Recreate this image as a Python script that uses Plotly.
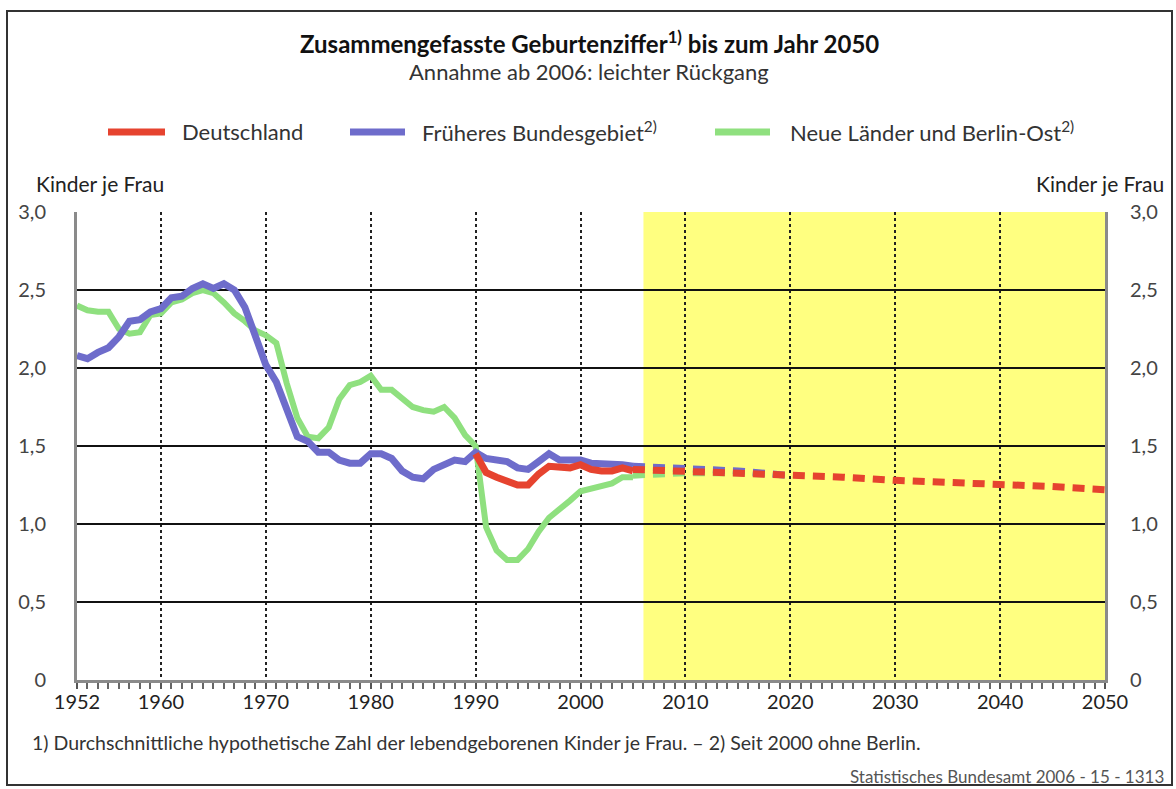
import plotly.graph_objects as go

# ---------------- data ----------------
years_hist = list(range(1952, 2006))
west = [2.08, 2.06, 2.10, 2.13, 2.20, 2.30, 2.31, 2.36, 2.38, 2.45,
        2.46, 2.51, 2.54, 2.51, 2.54, 2.50, 2.39, 2.22, 2.02, 1.91,
        1.72, 1.56, 1.53, 1.46, 1.46, 1.41, 1.39, 1.39, 1.45, 1.45,
        1.42, 1.34, 1.30, 1.29, 1.35, 1.38, 1.41, 1.40, 1.46, 1.42,
        1.41, 1.40, 1.36, 1.35, 1.40, 1.45, 1.41, 1.41, 1.41, 1.39,
        1.39, 1.38, 1.38, 1.37]
east = [2.40, 2.37, 2.36, 2.36, 2.25, 2.22, 2.23, 2.34, 2.35, 2.42,
        2.44, 2.48, 2.50, 2.48, 2.42, 2.35, 2.30, 2.24, 2.21, 2.16,
        1.90, 1.68, 1.56, 1.55, 1.62, 1.80, 1.89, 1.91, 1.95, 1.86,
        1.86, 1.80, 1.75, 1.73, 1.72, 1.75, 1.68, 1.57, 1.50, 0.98,
        0.83, 0.77, 0.77, 0.84, 0.95, 1.04, 1.09, 1.15, 1.21, 1.23,
        1.25, 1.26, 1.30, 1.30]
years_de = list(range(1990, 2006))
germany = [1.45, 1.33, 1.30, 1.28, 1.25, 1.25, 1.32, 1.37, 1.36, 1.36,
           1.38, 1.35, 1.34, 1.34, 1.36, 1.34]

years_fc = [2005, 2010, 2015, 2020, 2025, 2030, 2035, 2040, 2045, 2050]
germany_fc = [1.35, 1.34, 1.33, 1.31, 1.30, 1.28, 1.27, 1.25, 1.24, 1.22]
years_fc_west = [2005, 2010, 2015, 2020]
west_fc = [1.37, 1.36, 1.34, 1.31]
years_fc_east = [2005, 2010, 2015, 2020]
east_fc = [1.31, 1.325, 1.325, 1.31]

forecast_start = 2006
x_ticks = [1952, 1960, 1970, 1980, 1990, 2000, 2010, 2020, 2030, 2040, 2050]
y_ticks = [0, 0.5, 1.0, 1.5, 2.0, 2.5, 3.0]
y_ticktext = ["0", "0,5", "1,0", "1,5", "2,0", "2,5", "3,0"]

series_names = ["Deutschland", "Früheres Bundesgebiet<sup>2)</sup>",
                "Neue Länder und Berlin-Ost<sup>2)</sup>"]

RED = "#e6432f"
BLUE = "#6e6ccb"
GREEN = "#8fe07f"
YELLOW = "#ffff80"
FONT = "Lato, DejaVu Sans, sans-serif"

# ---------------- layout geometry (pixels) ----------------
W, H = 1176, 789
L, R, T, B = 77, 71, 212, 109
PW, PH = W - L - R, H - T - B


def px(x):
    return (x - L) / PW


def py(y):
    return (H - B - y) / PH


fig = go.Figure()

dash_pat = "12px,8px"
fig.add_trace(go.Scatter(x=years_fc_east, y=east_fc, mode="lines",
                         line=dict(color=GREEN, width=6, dash=dash_pat),
                         showlegend=False, hoverinfo="skip"))
fig.add_trace(go.Scatter(x=years_fc_west, y=west_fc, mode="lines",
                         line=dict(color=BLUE, width=7, dash=dash_pat),
                         showlegend=False, hoverinfo="skip"))
fig.add_trace(go.Scatter(x=years_hist, y=east, mode="lines", name=series_names[2],
                         line=dict(color=GREEN, width=6), showlegend=False))
fig.add_trace(go.Scatter(x=years_hist, y=west, mode="lines", name=series_names[1],
                         line=dict(color=BLUE, width=7), showlegend=False))
fig.add_trace(go.Scatter(x=years_de, y=germany, mode="lines", name=series_names[0],
                         line=dict(color=RED, width=7), showlegend=False))
fig.add_trace(go.Scatter(x=years_fc, y=germany_fc, mode="lines", name=series_names[0],
                         line=dict(color=RED, width=7, dash=dash_pat), showlegend=False))
# dummy trace for right axis
fig.add_trace(go.Scatter(x=[2050], y=[0], yaxis="y2", mode="markers",
                         marker=dict(opacity=0), showlegend=False, hoverinfo="skip"))

# forecast shading
fig.add_shape(type="rect", xref="x", yref="y", x0=forecast_start, x1=2050, y0=0, y1=3,
              fillcolor=YELLOW, line=dict(width=0), layer="below")

# outer frame
fig.add_shape(type="rect", xref="paper", yref="paper",
              x0=px(7), x1=px(1172), y0=py(785), y1=py(11),
              line=dict(color="#333", width=2), fillcolor="rgba(0,0,0,0)")

# legend (manual)
legend_items = [(108, 165, 180, RED), (350, 405, 420, BLUE), (715, 770, 788, GREEN)]
for (x0, x1, tx, col), name in zip(legend_items, series_names):
    fig.add_shape(type="line", xref="paper", yref="paper",
                  x0=px(x0), x1=px(x1), y0=py(132), y1=py(132),
                  line=dict(color=col, width=7))
    fig.add_annotation(xref="paper", yref="paper", x=px(tx), y=py(132),
                       text=name, showarrow=False, xanchor="left", yanchor="middle",
                       font=dict(family=FONT, size=22, color="#333"))

annos = [
    dict(x=px(589), y=py(42), text="<b>Zusammengefasste Geburtenziffer<sup>1)</sup> bis zum Jahr 2050</b>",
         xanchor="center", font=dict(size=24, color="#111")),
    dict(x=px(589), y=py(72), text="Annahme ab 2006: leichter Rückgang",
         xanchor="center", font=dict(size=22, color="#333")),
    dict(x=px(34), y=py(183), text="Kinder je Frau", xanchor="left",
         font=dict(size=21, color="#222")),
    dict(x=px(1166), y=py(183), text="Kinder je Frau", xanchor="right",
         font=dict(size=21, color="#222")),
    dict(x=px(30), y=py(742),
         text="1) Durchschnittliche hypothetische Zahl der lebendgeborenen Kinder je Frau. – 2) Seit 2000 ohne Berlin.",
         xanchor="left", font=dict(size=19.5, color="#333")),
    dict(x=px(1166), y=py(776), text="Statistisches Bundesamt 2006 - 15 - 1313",
         xanchor="right", font=dict(size=17, color="#555")),
]
for a in annos:
    a["font"]["family"] = FONT
    fig.add_annotation(xref="paper", yref="paper", showarrow=False, yanchor="middle", **a)

fig.update_layout(
    width=W, height=H,
    margin=dict(l=L, r=R, t=T, b=B, pad=0),
    paper_bgcolor="white", plot_bgcolor="white",
    font=dict(family=FONT, color="#333"),
    showlegend=False,
    xaxis=dict(range=[1952, 2050], tickmode="array", tickvals=x_ticks,
               showgrid=True, gridcolor="#222", gridwidth=1.5, griddash="dot",
               showline=True, linecolor="#8a8a8a", linewidth=3,
               ticks="outside", ticklen=6, tickwidth=1.5, tickcolor="#555",
               minor=dict(tickmode="linear", tick0=1952, dtick=1, ticks="outside",
                          ticklen=6, tickwidth=1.5, tickcolor="#666", showgrid=False),
               ticklabelstandoff=-4,
               tickfont=dict(size=20, color="#222"), zeroline=False),
    yaxis=dict(range=[0, 3], tickmode="array", tickvals=y_ticks, ticktext=y_ticktext,
               showgrid=True, gridcolor="#111", gridwidth=2,
               showline=True, linecolor="#8a8a8a", linewidth=3, ticks="",
               ticklabelstandoff=24, tickfont=dict(size=20, color="#444"),
               zeroline=False),
    yaxis2=dict(range=[0, 3], overlaying="y", side="right", tickmode="array",
                tickvals=y_ticks, ticktext=y_ticktext, showgrid=False,
                showline=True, linecolor="#8a8a8a", linewidth=3, ticks="",
                ticklabelstandoff=18, tickfont=dict(size=20, color="#444"),
                zeroline=False),
)

fig.write_html("out.html", config={"displayModeBar": False},
               post_script="document.body.style.margin='0';")
